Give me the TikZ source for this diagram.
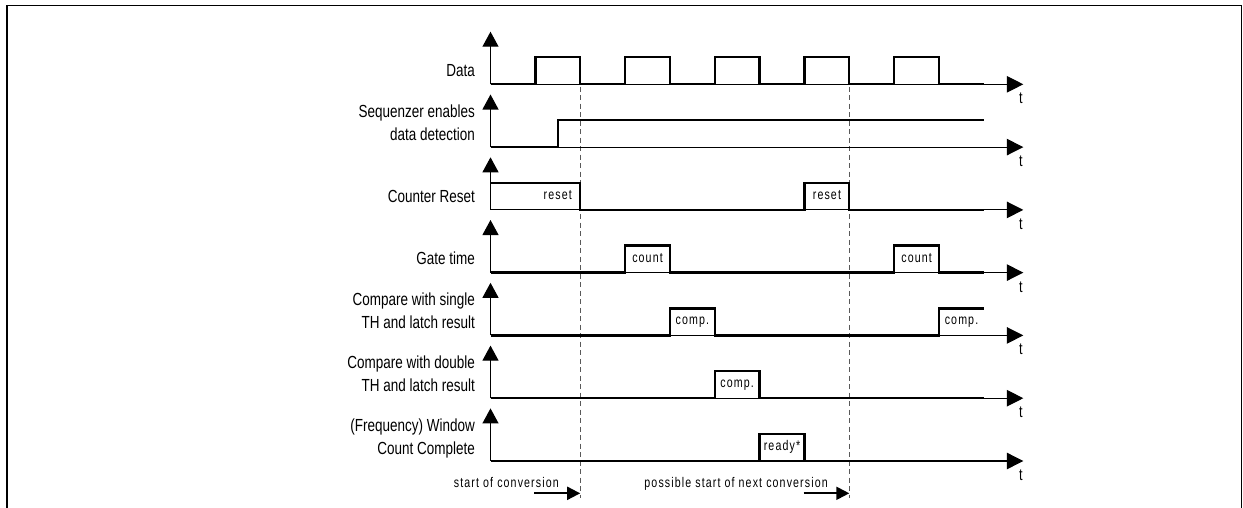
\documentclass[tikz,border=0pt]{standalone}
\usepackage{fontspec}
\setmainfont{Liberation Sans}
\newfontfamily\labfont[FakeStretch=0.77]{Liberation Sans}
\newfontfamily\smallfont[FakeStretch=0.76,LetterSpace=8]{Liberation Sans}
\usetikzlibrary{arrows.meta}
\begin{document}
\begin{tikzpicture}[x=1pt,y=-1pt,
  frameline/.style={line width=1.3pt,line cap=rect},
  yaxis/.style={line width=1.1pt,-{Triangle[width=16pt,length=15pt]}},
  taxis/.style={line width=1.1pt,-{Triangle[width=16.5pt,length=16.5pt]}},
  sig/.style={line width=2.3pt,line join=miter},
  dashline/.style={line width=1.1pt,draw=black!65,dash pattern=on 5pt off 3.5pt},
  startarrow/.style={line width=2pt,-{Triangle[width=13pt,length=13pt]}},
  lbl/.style={anchor=east,inner sep=0pt,align=right,font=\labfont\fontsize{17.5}{22.6}\selectfont},
  tlbl/.style={anchor=base,inner sep=0pt,font=\labfont\fontsize{16.5}{19}\selectfont},
  boxlbl/.style={anchor=base,inner sep=0pt,font=\smallfont\fontsize{14}{16}\selectfont},
  notelbl/.style={anchor=base east,inner sep=0pt,font=\smallfont\fontsize{14}{16}\selectfont}]
\useasboundingbox (0,0) rectangle (1243,507);
% frame (open at the bottom)
\draw[frameline] (7,507) -- (7,5.3) -- (1241.5,5.3) -- (1241.5,507);

% dashed markers
\coordinate (d1top) at (580.2,86.5);
\coordinate (d1bot) at (580.2,498);
\coordinate (d2top) at (849.3,86.5);
\coordinate (d2bot) at (849.3,498);
\draw[dashline] (d1top) -- (d1bot);
\draw[dashline] (d2top) -- (d2bot);

% row 0: Data
\begin{scope}[shift={(0,84.3)}]
  \coordinate (o0) at (490.5,0);
  \coordinate (u0) at (490.5,-52.6);
  \coordinate (r0) at (1023.3,0);
  \draw[yaxis] (o0) -- (u0);
  \draw[taxis] (o0) -- (r0);
  \node[tlbl] (t0) at (1021,19.5) {t};
  \node[lbl] (l0) at (475,-12.3) {Data\strut};
  \draw[sig] (490.5,0) -- (535.4,0) -- (535.4,-27) -- (580.2,-27) -- (580.2,0)
    -- (625.1,0) -- (625.1,-27) -- (669.9,-27) -- (669.9,0)
    -- (714.8,0) -- (714.8,-27) -- (759.6,-27) -- (759.6,0)
    -- (804.5,0) -- (804.5,-27) -- (849.3,-27) -- (849.3,0)
    -- (894.2,0) -- (894.2,-27) -- (939.0,-27) -- (939.0,0) -- (983.9,0);
\end{scope}

% row 1: Sequenzer
\begin{scope}[shift={(0,147.1)}]
  \coordinate (o1) at (490.5,0);
  \coordinate (u1) at (490.5,-52.6);
  \coordinate (r1) at (1023.3,0);
  \draw[yaxis] (o1) -- (u1);
  \draw[taxis] (o1) -- (r1);
  \node[tlbl] (t1) at (1021,19.5) {t};
  \node[lbl] (l1) at (475,-22.7) {Sequenzer enables\strut\\data detection\strut};
  \draw[sig] (490.5,0) -- (557.7,0) -- (557.7,-27) -- (983.9,-27);
\end{scope}

% row 2: Counter Reset
\begin{scope}[shift={(0,209.9)}]
  \coordinate (o2) at (490.5,0);
  \coordinate (u2) at (490.5,-52.6);
  \coordinate (r2) at (1023.3,0);
  \draw[yaxis] (o2) -- (u2);
  \draw[taxis] (o2) -- (r2);
  \node[tlbl] (t2) at (1021,19.5) {t};
  \node[lbl] (l2) at (475,-12.3) {Counter Reset\strut};
  \draw[sig] (490.5,-27) -- (580.2,-27) -- (580.2,0) -- (804.5,0) -- (804.5,-27)
    -- (849.3,-27) -- (849.3,0) -- (983.9,0);
  \node[boxlbl] (b2a) at (557.8,-10.5) {reset};
  \node[boxlbl] (b2b) at (826.9,-10.5) {reset};
\end{scope}

% row 3: Gate time
\begin{scope}[shift={(0,272.6)}]
  \coordinate (o3) at (490.5,0);
  \coordinate (u3) at (490.5,-52.6);
  \coordinate (r3) at (1023.3,0);
  \draw[yaxis] (o3) -- (u3);
  \draw[taxis] (o3) -- (r3);
  \node[tlbl] (t3) at (1021,19.5) {t};
  \node[lbl] (l3) at (475,-12.3) {Gate time\strut};
  \draw[sig] (490.5,0) -- (625.1,0) -- (625.1,-27) -- (669.9,-27) -- (669.9,0)
    -- (894.2,0) -- (894.2,-27) -- (939.0,-27) -- (939.0,0) -- (983.9,0);
  \node[boxlbl] (b3a) at (647.5,-10.5) {count};
  \node[boxlbl] (b3b) at (916.6,-10.5) {count};
\end{scope}

% row 4: Compare with single TH
\begin{scope}[shift={(0,335.4)}]
  \coordinate (o4) at (490.5,0);
  \coordinate (u4) at (490.5,-52.6);
  \coordinate (r4) at (1023.3,0);
  \draw[yaxis] (o4) -- (u4);
  \draw[taxis] (o4) -- (r4);
  \node[tlbl] (t4) at (1021,19.5) {t};
  \node[lbl] (l4) at (475,-22.7) {Compare with single\strut\\TH and latch result\strut};
  \draw[sig] (490.5,0) -- (669.9,0) -- (669.9,-27) -- (714.8,-27) -- (714.8,0)
    -- (939.0,0) -- (939.0,-27) -- (983.9,-27);
  \node[boxlbl] (b4a) at (692.4,-10.5) {comp.};
  \node[boxlbl] (b4b) at (961.5,-10.5) {comp.};
\end{scope}

% row 5: Compare with double TH
\begin{scope}[shift={(0,398.2)}]
  \coordinate (o5) at (490.5,0);
  \coordinate (u5) at (490.5,-52.6);
  \coordinate (r5) at (1023.3,0);
  \draw[yaxis] (o5) -- (u5);
  \draw[taxis] (o5) -- (r5);
  \node[tlbl] (t5) at (1021,19.5) {t};
  \node[lbl] (l5) at (475,-22.7) {Compare with double\strut\\TH and latch result\strut};
  \draw[sig] (490.5,0) -- (714.8,0) -- (714.8,-27) -- (759.6,-27) -- (759.6,0) -- (983.9,0);
  \node[boxlbl] (b5a) at (737.2,-10.5) {comp.};
\end{scope}

% row 6: Window Count Complete
\begin{scope}[shift={(0,461.0)}]
  \coordinate (o6) at (490.5,0);
  \coordinate (u6) at (490.5,-52.6);
  \coordinate (r6) at (1023.3,0);
  \draw[yaxis] (o6) -- (u6);
  \draw[taxis] (o6) -- (r6);
  \node[tlbl] (t6) at (1021,19.5) {t};
  \node[lbl] (l6) at (475,-22.7) {(Frequency) Window\strut\\Count Complete\strut};
  \draw[sig] (490.5,0) -- (759.6,0) -- (759.6,-27) -- (804.5,-27) -- (804.5,0) -- (983.9,0);
  \node[boxlbl] (b6a) at (782.0,-10.5) {ready*};
\end{scope}

% bottom notes
\coordinate (s1a) at (534,493.3);
\coordinate (s1b) at (580.2,493.3);
\coordinate (s2a) at (803.5,493.3);
\coordinate (s2b) at (849.3,493.3);
\draw[startarrow] (s1a) -- (s1b);
\draw[startarrow] (s2a) -- (s2b);
\node[notelbl] (n1) at (559,487.5) {start of conversion};
\node[notelbl] (n2) at (828,487.5) {possible start of next conversion};
\end{tikzpicture}
\end{document}
